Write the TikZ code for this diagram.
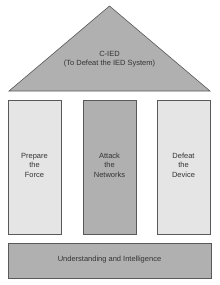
\documentclass[tikz,border=0pt]{standalone}
\usepackage{fontspec}
\setmainfont{Liberation Sans}
\begin{document}
\begin{tikzpicture}[x=1pt,y=-1pt,
  every node/.style={font=\fontsize{7.5}{9.5}\selectfont, text=black!80, align=center, inner sep=0pt},
  part/.style={draw=black!65, line width=0.6pt},
  light/.style={part, fill=black!10},
  dark/.style={part, fill=black!31}]
\useasboundingbox (0,0) rectangle (220,285);
\filldraw[dark] (9,91) coordinate (tl) -- (109.5,6) coordinate (apex) -- (210,91) coordinate (tr) -- cycle;
\node (roof) at (109.5,59) {C-IED\\(To Defeat the IED System)};
\draw[light] (8,100) rectangle (61,234);
\node (p1) at (34.5,165) {Prepare\\the\\Force};
\draw[dark] (83,100) rectangle (136,234);
\node (p2) at (109.5,165) {Attack\\the\\Networks};
\draw[light] (157,100) rectangle (210,234);
\node (p3) at (183.5,165) {Defeat\\the\\Device};
\draw[dark] (8,243) rectangle (211,278);
\node (base) at (109.5,260) {Understanding and Intelligence};
\end{tikzpicture}
\end{document}
